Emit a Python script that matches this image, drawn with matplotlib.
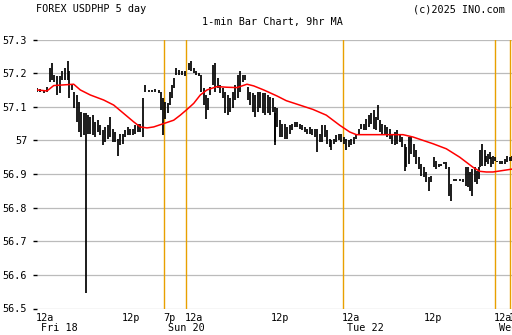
import numpy as np
import matplotlib.pyplot as plt

plt.rcParams['font.family'] = ['DejaVu Sans Mono']

# bar positions (slots along the compressed time axis), highs and lows
bar_x = [0, 3.3, 6.7, 10, 12.7, 15, 17.3, 20, 22.7, 25, 28.3, 30.7, 32.3, 35, 37.3, 40, 41.7, 44, 46.7, 49,
         50.7, 53.3, 56, 58.3, 60.7, 63.3, 65.7, 68.3, 70.7, 73.3, 76, 78.3, 80.7, 83.3, 86, 88.3, 90.7, 93.3, 96, 98.3,
         100.7, 103.3, 106, 108.3, 111.7, 115, 118.3, 121.7, 124, 126, 128.3, 130.7, 133.3, 135, 136.7, 139.3, 141.7, 145, 148.3, 151.7,
         154, 156.7, 159.3, 161.7, 164, 166.7, 169, 170.7, 173.3, 176, 178.3, 180.7, 183.3, 186, 188.3, 190.7, 193.3, 196, 198.3, 200.7,
         203.3, 206, 208.3, 210.7, 213.3, 216, 218.3, 220.7, 223.3, 226, 228.3, 230.7, 233.3, 236, 238.3, 237.7, 240, 242.7, 245.3, 247.7,
         250, 252.7, 255.3, 257.7, 260, 262.7, 265.3, 267.7, 270, 272.7, 275.3, 277.7, 280, 282.7, 285.3, 287.7, 290, 292.7, 294.3, 296.7,
         299.3, 302, 304.3, 306.7, 309.3, 312, 314.3, 316.7, 319.3, 322, 324.3, 326.7, 329.3, 332, 334.3, 336.7, 339.3, 341, 342.7, 345.3,
         347.7, 350, 352.7, 355.3, 357.7, 360, 362.7, 365.3, 367.7, 369.3, 372, 374.3, 376.7, 379.3, 382, 384.3, 386.7, 389.3, 392, 394.3,
         396.7, 399.3, 402, 404.3, 406.7, 409.3, 411.7, 414, 416.7, 419.3, 422.7, 426, 428.7, 431, 433.3, 435.3, 437.7, 440, 442, 443.3,
         445.3, 447.7, 449.3, 451, 452.7, 454.3, 456, 457.7, 460, 462.7, 465.3, 467.7, 470, 472.7, 475.3]
bar_hi = [57.155, 57.153, 57.150, 57.160, 57.215, 57.230, 57.195, 57.190, 57.190, 57.205, 57.215, 57.235, 57.205, 57.165, 57.145, 57.135, 57.115, 57.085, 57.080, 57.080,
          57.075, 57.070, 57.075, 57.055, 57.060, 57.045, 57.030, 57.040, 57.045, 57.070, 57.035, 57.025, 57.005, 57.020, 57.020, 57.030, 57.040, 57.035, 57.035, 57.045,
          57.050, 57.050, 57.125, 57.165, 57.150, 57.150, 57.152, 57.150, 57.145, 57.125, 57.115, 57.110, 57.145, 57.165, 57.185, 57.215, 57.210, 57.205, 57.205, 57.230,
          57.235, 57.215, 57.205, 57.200, 57.195, 57.155, 57.135, 57.125, 57.160, 57.225, 57.230, 57.185, 57.165, 57.155, 57.145, 57.135, 57.125, 57.145, 57.165, 57.195,
          57.205, 57.195, 57.195, 57.160, 57.145, 57.140, 57.135, 57.145, 57.145, 57.140, 57.140, 57.135, 57.130, 57.125, 57.080, 57.100, 57.095, 57.060, 57.050, 57.050,
          57.040, 57.045, 57.050, 57.055, 57.055, 57.050, 57.045, 57.040, 57.035, 57.040, 57.035, 57.035, 57.035, 57.020, 57.045, 57.045, 57.030, 57.005, 57.000, 57.005,
          57.015, 57.020, 57.020, 57.010, 57.005, 57.000, 57.005, 57.010, 57.020, 57.035, 57.050, 57.050, 57.065, 57.075, 57.080, 57.090, 57.070, 57.105, 57.060, 57.050,
          57.045, 57.040, 57.035, 57.020, 57.025, 57.030, 57.020, 57.010, 56.990, 56.980, 57.010, 57.010, 56.990, 56.970, 56.950, 56.930, 56.920, 56.905, 56.890, 56.895,
          56.950, 56.940, 56.930, 56.930, 56.935, 56.935, 56.920, 56.870, 56.885, 56.885, 56.885, 56.885, 56.920, 56.920, 56.905, 56.915, 56.920, 56.910, 56.920, 56.970,
          56.990, 56.970, 56.955, 56.960, 56.965, 56.950, 56.955, 56.950, 56.940, 56.940, 56.940, 56.945, 56.955, 56.950, 56.955]
bar_lo = [57.145, 57.143, 57.140, 57.145, 57.175, 57.180, 57.175, 57.135, 57.140, 57.180, 57.180, 57.180, 57.125, 57.150, 57.095, 57.055, 57.025, 57.010, 57.015, 56.545,
          57.020, 57.020, 57.015, 57.010, 57.025, 57.015, 56.985, 56.995, 57.005, 57.010, 56.995, 56.995, 56.955, 56.985, 56.990, 57.010, 57.015, 57.015, 57.015, 57.020,
          57.025, 57.025, 57.010, 57.145, 57.145, 57.143, 57.145, 57.140, 57.090, 57.015, 57.065, 57.080, 57.105, 57.125, 57.155, 57.195, 57.195, 57.195, 57.190, 57.210,
          57.205, 57.200, 57.195, 57.190, 57.145, 57.105, 57.065, 57.090, 57.135, 57.165, 57.145, 57.155, 57.140, 57.125, 57.080, 57.075, 57.085, 57.095, 57.120, 57.125,
          57.145, 57.175, 57.180, 57.120, 57.105, 57.085, 57.070, 57.085, 57.095, 57.080, 57.075, 57.080, 57.075, 57.085, 56.985, 56.995, 57.040, 57.010, 57.010, 57.005,
          57.005, 57.020, 57.030, 57.040, 57.040, 57.035, 57.030, 57.025, 57.020, 57.020, 57.015, 57.010, 56.965, 56.995, 56.995, 57.010, 56.990, 56.980, 56.970, 56.990,
          56.995, 57.000, 56.995, 56.990, 56.970, 56.980, 56.985, 56.990, 57.005, 57.015, 57.035, 57.030, 57.030, 57.040, 57.050, 57.035, 57.030, 57.060, 57.025, 57.020,
          57.020, 57.010, 57.005, 56.990, 56.985, 56.990, 56.995, 56.980, 56.910, 56.920, 56.930, 56.960, 56.950, 56.930, 56.915, 56.895, 56.890, 56.875, 56.850, 56.875,
          56.920, 56.915, 56.920, 56.925, 56.930, 56.915, 56.835, 56.820, 56.880, 56.880, 56.880, 56.875, 56.865, 56.860, 56.850, 56.835, 56.875, 56.870, 56.885, 56.920,
          56.925, 56.925, 56.935, 56.930, 56.945, 56.920, 56.930, 56.940, 56.935, 56.930, 56.930, 56.930, 56.935, 56.940, 56.940]

# 9hr moving average
ma_x = [0, 10, 16.7, 26.7, 36.7, 43.3, 53.3, 66.7, 76.7, 86.7, 96.7, 103.3, 110, 116.7, 126.7, 136.7, 143.3, 150, 156.7, 163.3,
        170, 180, 190, 200, 210, 216.7, 226.7, 240, 249.3, 262.7, 276, 289.3, 302.7, 312.7, 319.3, 336, 352.7, 366, 376, 386,
        396, 409.3, 422.7, 436, 442.7, 449.3, 456, 462.7, 476]
ma_y = [57.150, 57.147, 57.163, 57.165, 57.167, 57.150, 57.135, 57.120, 57.105, 57.080, 57.055, 57.040, 57.037, 57.040, 57.050, 57.060, 57.075, 57.092, 57.110, 57.135,
        57.150, 57.160, 57.158, 57.157, 57.167, 57.162, 57.150, 57.132, 57.118, 57.105, 57.092, 57.075, 57.045, 57.025, 57.017, 57.017, 57.017, 57.017, 57.010, 57.000,
        56.990, 56.975, 56.950, 56.920, 56.908, 56.906, 56.906, 56.909, 56.915]

tick_pos = [0, 86, 127, 149, 235, 306, 388, 458, 473]
tick_txt = ['12a', '12p', '7p', '12a', '12p', '12a', '12p', '12a', '12a']
day_pos = [0, 127, 306, 458]
day_txt = ['Fri 18', 'Sun 20', 'Tue 22', 'Wed']
session_lines = [127, 149, 306, 458, 473]
y_ticks = [56.5, 56.6, 56.7, 56.8, 56.9, 57.0, 57.1, 57.2, 57.3]
y_txt = ['56.5', '56.6', '56.7', '56.8', '56.9', '57', '57.1', '57.2', '57.3']

fig = plt.figure(figsize=(5.12, 3.35), dpi=100)
ax = fig.add_axes([37 / 512, 1 - 308.5 / 335, 475 / 512, 269 / 335])
ax.set_xlim(0, 475)
ax.set_ylim(56.5, 57.3)
for s in ax.spines.values():
    s.set_visible(False)

for v in y_ticks:
    ax.axhline(v, color='#bbbbbb', lw=0.9, zorder=1)
for v in session_lines:
    ax.axvline(v, color='#e8a000', lw=1.0, zorder=2)

ax.vlines(bar_x, bar_lo, bar_hi, color='black', lw=1.25, zorder=3)
ax.plot(ma_x, ma_y, color='#ff0000', lw=1.1, zorder=4)

ax.set_yticks(y_ticks)
ax.set_yticklabels(y_txt, fontsize=7.3)
ax.tick_params(axis='y', length=3, width=1, pad=4, left=True, right=True, direction='out')
ax.set_xticks([])

tr = ax.get_xaxis_transform()
for p, t in zip(tick_pos, tick_txt):
    ax.text(p - 1, -0.015, t, transform=tr, ha='left', va='top', fontsize=7.3)
for p, t in zip(day_pos, day_txt):
    ax.text(p + 4, -0.055, t, transform=tr, ha='left', va='top', fontsize=7.3, clip_on=False)

fig.text(36 / 512, 1 - 4 / 335, 'FOREX USDPHP 5 day', ha='left', va='top', fontsize=7.3)
fig.text(505 / 512, 1 - 4 / 335, '(c)2025 INO.com', ha='right', va='top', fontsize=7.3)
fig.text(272 / 512, 1 - 17 / 335, '1-min Bar Chart, 9hr MA', ha='center', va='top', fontsize=7.3)

fig.savefig('out.png', dpi=100)
